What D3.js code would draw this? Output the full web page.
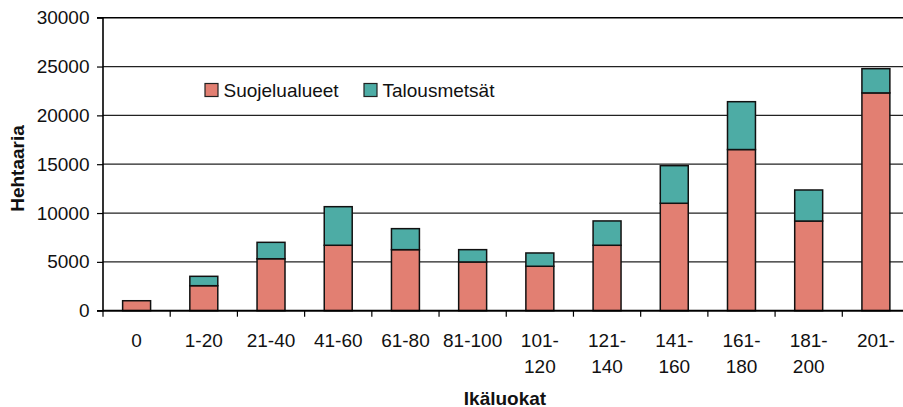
<!DOCTYPE html>
<html><head><meta charset="utf-8">
<script src="https://cdn.jsdelivr.net/npm/d3@7"></script>
<style>body{margin:0;background:#fff}svg{display:block;font-family:"Liberation Sans",Arial,sans-serif}</style>
</head><body>
<svg id="c" width="903" height="407"></svg>
<script>
const categories = ["0","1-20","21-40","41-60","61-80","81-100","101-120","121-140","141-160","161-180","181-200","201-"];
const labelLines = [["0"],["1-20"],["21-40"],["41-60"],["61-80"],["81-100"],["101-","120"],["121-","140"],["141-","160"],["161-","180"],["181-","200"],["201-"]];
const suojelualueet = [1020, 2560, 5320, 6700, 6250, 4990, 4550, 6700, 11000, 16500, 9180, 22300];
const talousmetsat = [0, 960, 1680, 3950, 2150, 1260, 1360, 2490, 3850, 4900, 3180, 2480];
const seriesNames = ["Suojelualueet","Talousmetsät"];
const colors = ["#E27F72","#4DACA5"];
const yTicks = [0,5000,10000,15000,20000,25000,30000];

(function(){
const svg = d3.select("#c");
const FS = 19;
const mLeft = 103, mRight = 909.5, mTop = 17.7, mBottom = 310.7;
const x = d3.scaleBand().domain(categories).range([mLeft, mRight]).paddingInner(0.584).paddingOuter(0.292);
const y = d3.scaleLinear().domain([0,30000]).range([mBottom, mTop]);

// gridlines
svg.append("g").selectAll("line").data(yTicks.filter(d=>d>0)).join("line")
  .attr("x1", mLeft).attr("x2", 903).attr("y1", d=>y(d)).attr("y2", d=>y(d))
  .attr("stroke", d=> d===30000 ? "#000" : "#222").attr("stroke-width", d=> d===30000?1.6:1.2);

const data = categories.map((c,i)=>({cat:c, s:suojelualueet[i], t:talousmetsat[i]}));
const stack = d3.stack().keys(["s","t"])(data);
svg.append("g").selectAll("g").data(stack).join("g")
  .attr("fill",(d,i)=>colors[i])
  .selectAll("rect").data(d=>d.filter(e=>e[1]-e[0]>0)).join("rect")
  .attr("x", d=>x(d.data.cat)).attr("width", x.bandwidth())
  .attr("y", d=>y(d[1])).attr("height", d=>y(d[0])-y(d[1]))
  .attr("stroke","#111").attr("stroke-width",1.5);

// y axis
const ya = d3.axisLeft(y).tickValues(yTicks).tickSize(6).tickPadding(7.5).tickFormat(d3.format("d"));
const gy = svg.append("g").attr("transform",`translate(${mLeft},0)`).call(ya);
gy.select(".domain").attr("stroke","#000").attr("stroke-width",1.6).attr("d",`M-6,${mTop}H0V${mBottom}H-6`);
gy.selectAll(".tick line").attr("stroke","#000").attr("stroke-width",1.2);
gy.selectAll("text").attr("font-size",FS).attr("fill","#111").attr("font-family","Liberation Sans, Arial, sans-serif");

// x axis
const bounds = categories.map((c,i)=> mLeft + i*(mRight-mLeft)/categories.length);
svg.append("line").attr("x1",mLeft).attr("x2",903).attr("y1",mBottom).attr("y2",mBottom).attr("stroke","#000").attr("stroke-width",2);
svg.append("g").selectAll("line").data(bounds).join("line")
  .attr("x1",d=>d).attr("x2",d=>d).attr("y1",mBottom).attr("y2",mBottom+6).attr("stroke","#000").attr("stroke-width",1.2);
const xl = svg.append("g").selectAll("text").data(categories).join("text")
  .attr("x", d=>x(d)+x.bandwidth()/2).attr("y", 346.5)
  .attr("text-anchor","middle").attr("font-size",FS).attr("fill","#111");
xl.each(function(d,i){
  const t = d3.select(this);
  labelLines[i].forEach((l,j)=> t.append("tspan").attr("x", x(d)+x.bandwidth()/2).attr("dy", j===0?0:26.7).text(l));
});

// axis titles
svg.append("text").attr("x",505).attr("y",404.5).attr("text-anchor","middle").attr("font-size",FS).attr("font-weight","bold").attr("fill","#111").text("Ikäluokat");
svg.append("text").attr("transform","translate(24,168.5) rotate(-90)").attr("text-anchor","middle").attr("font-size",FS).attr("font-weight","bold").attr("fill","#111").text("Hehtaaria");

// legend
const lx = [205, 364];
const lg = svg.append("g").selectAll("g").data(seriesNames).join("g").attr("transform",(d,i)=>`translate(${lx[i]},83.5)`);
lg.append("rect").attr("width",13).attr("height",13).attr("fill",(d,i)=>colors[i]).attr("stroke","#222").attr("stroke-width",1.2);
lg.append("text").attr("x",18.5).attr("y",13).attr("font-size",FS).attr("fill","#111").text(d=>d);
})();
</script>
</body></html>
